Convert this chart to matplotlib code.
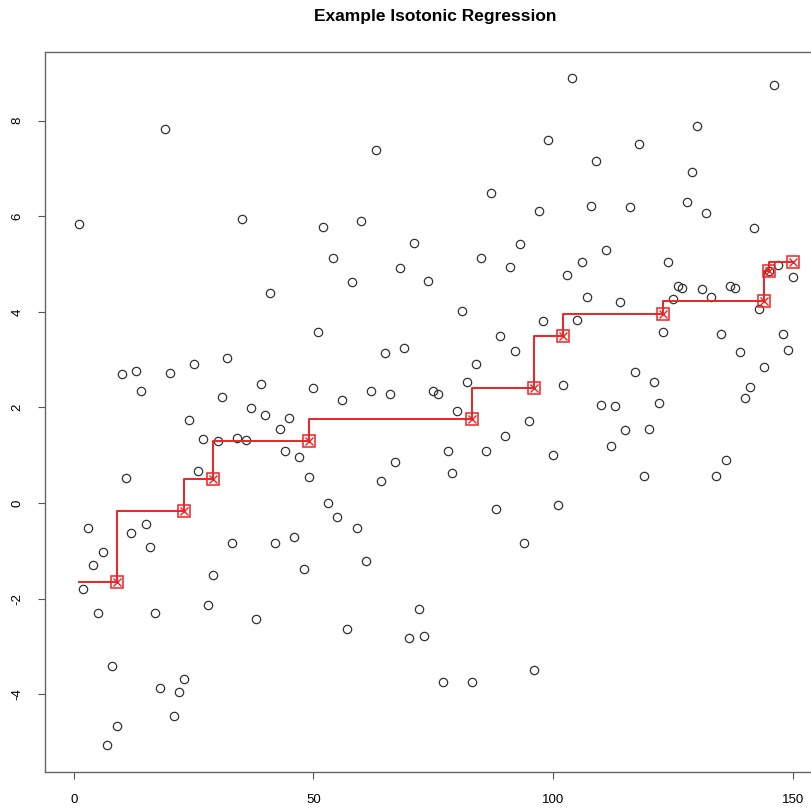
import numpy as np
import matplotlib
matplotlib.use("Agg")
import matplotlib.pyplot as plt

plt.rcParams['font.family'] = ['Liberation Sans', 'DejaVu Sans']

# observations, index 1..150
y = [5.83, -1.80, -0.51, -1.30, -2.30, -1.03, -5.06, -3.40, -4.65, 2.70,
     0.52, -0.62, 2.77, 2.35, -0.44, -0.91, -2.30, -3.87, 7.83, 2.72,
     -4.46, -3.95, -3.67, 1.74, 2.91, 0.68, 1.35, -2.13, -1.51, 1.30,
     2.22, 3.04, -0.84, 1.36, 5.95, 1.32, 1.99, -2.43, 2.50, 1.85,
     4.40, -0.83, 1.56, 1.10, 1.78, -0.71, 0.96, -1.37, 0.55, 2.41,
     3.58, 5.77, 0.00, 5.13, -0.28, 2.16, -2.64, 4.62, -0.52, 5.89,
     -1.21, 2.35, 7.38, 0.47, 3.14, 2.28, 0.86, 4.91, 3.24, -2.81,
     5.44, -2.21, -2.77, 4.64, 2.35, 2.29, -3.73, 1.08, 0.64, 1.93,
     4.01, 2.54, -3.74, 2.91, 5.12, 1.10, 6.49, -0.12, 3.49, 1.41,
     4.94, 3.18, 5.42, -0.84, 1.71, -3.48, 6.10, 3.80, 7.59, 1.00,
     -0.04, 2.46, 4.76, 8.88, 3.83, 5.04, 4.31, 6.22, 7.15, 2.06,
     5.30, 1.20, 2.04, 4.21, 1.53, 6.19, 2.75, 7.50, 0.56, 1.54,
     2.53, 2.09, 3.58, 5.04, 4.27, 4.55, 4.50, 6.30, 6.92, 7.89,
     4.48, 6.07, 4.31, 0.56, 3.54, 0.91, 4.55, 4.50, 3.17, 2.19,
     2.43, 5.76, 4.05, 2.85, 4.85, 8.74, 4.97, 3.54, 3.21, 4.73]
x = np.arange(1, len(y) + 1)

# knots of the isotonic fit (last index of each block) and block levels
knot_x = [9, 23, 29, 49, 83, 96, 102, 123, 144, 145, 150]
knot_y = [-1.64, -0.17, 0.51, 1.29, 1.75, 2.41, 3.49, 3.95, 4.22, 4.85, 5.04]

yf = np.array(knot_y)[np.searchsorted(knot_x, x)]

fig = plt.figure(figsize=(8.12, 8.09), dpi=100)
ax = fig.add_axes([0.056, 0.046, 0.961, 0.890])

ax.plot(x, y, 'o', ms=6, mfc='none', mec='#333333', mew=0.9)
ax.plot(x, yf, color='#ee2222', lw=1.4, drawstyle='steps-pre')
ax.plot(knot_x, knot_y, 's', ms=8, mfc='none', mec='#ee2222', mew=1.1)
ax.plot(knot_x, knot_y, 'x', ms=6, color='#ee2222', mew=1.0)

ax.set_xlim(-5.9, 156.9)
ax.margins(y=0.04)
ax.set_xticks([0, 50, 100, 150])
ax.set_yticks([-4, -2, 0, 2, 4, 6, 8])
ax.set_yticklabels(['-4', '-2', '0', '2', '4', '6', '8'], rotation=90, va='center')
ax.tick_params(direction='out', length=5, width=0.8, color='#555555',
               labelsize=9.5, pad=11)

for s in ax.spines.values():
    s.set_color('#666666')
    s.set_linewidth(1.0)

ax.set_title('Example Isotonic Regression', fontsize=12.5, fontweight='bold', pad=22)

fig.savefig('out.png', dpi=100)
